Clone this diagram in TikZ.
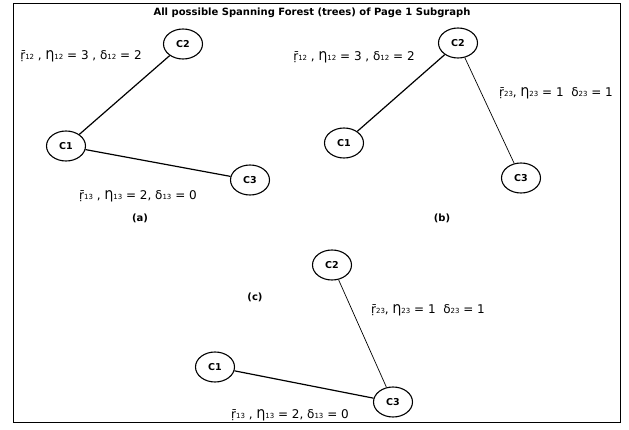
\documentclass[tikz,border=0pt]{standalone}
\usepackage{fontspec}
\setmainfont{DejaVu Sans}
\usetikzlibrary{shapes.geometric}

% small subscript set on the baseline
\newcommand\ix[1]{{\fontsize{7}{7}\selectfont #1}}

\tikzset{
  cnode/.style={draw, ellipse, line width=1.1pt, minimum width=39pt,
    minimum height=30pt, inner sep=0pt, font=\bfseries\fontsize{9.5}{9.5}\selectfont},
  wire/.style={line width=1.2pt},
  thinwire/.style={line width=0.7pt},
  wlabel/.style={inner sep=0pt, font=\fontsize{12}{12}\selectfont},
  tag/.style={inner sep=0pt, font=\bfseries\fontsize{10}{10}\selectfont}
}

\begin{document}
\begin{tikzpicture}[x=1pt, y=-1pt]
  \useasboundingbox (0,0) rectangle (629,430);
  % outer frame and title
  \draw[line width=1pt] (13,4) rectangle (620,422);
  \node[tag] (title) at (312,13) {All possible Spanning Forest (trees) of Page 1 Subgraph};

  % (a): C2--C1 and C1--C3
  \begin{scope}
    \node[cnode] (a2) at (183,44)  {C2};
    \node[cnode] (a1) at (66,146)  {C1};
    \node[cnode] (a3) at (250,180) {C3};
    \draw[wire] (a2) -- (a1);
    \draw[wire] (a1) -- (a3);
    % edge labels
    \node[wlabel] (a12) at (81,56)   {ṝ\ix{12} , Ƞ\ix{12} = 3 , δ\ix{12} = 2};
    \node[wlabel] (a13) at (138,196) {ṝ\ix{13} , Ƞ\ix{13} = 2, δ\ix{13} = 0};
    \node[tag] (capa) at (140,218) {(a)};
  \end{scope}

  % (b): C2--C1 and C2--C3
  \begin{scope}
    \node[cnode] (b2) at (458,43)  {C2};
    \node[cnode] (b1) at (344,143) {C1};
    \node[cnode] (b3) at (521,178) {C3};
    \draw[wire] (b2) -- (b1);
    \draw[thinwire] (b2) -- (b3);
    % edge labels
    \node[wlabel] (b12) at (354,57) {ṝ\ix{12} , Ƞ\ix{12} = 3 , δ\ix{12} = 2};
    \node[wlabel] (b23) at (556,93) {ṝ\ix{23}, Ƞ\ix{23} = 1~~δ\ix{23} = 1};
    \node[tag] (capb) at (442,218) {(b)};
  \end{scope}

  % (c): C2--C3 and C1--C3
  \begin{scope}
    \node[cnode] (c2) at (332,265) {C2};
    \node[cnode] (c1) at (215,367) {C1};
    \node[cnode] (c3) at (393,402) {C3};
    \draw[thinwire] (c2) -- (c3);
    \draw[wire] (c1) -- (c3);
    % edge labels
    \node[wlabel] (c23) at (428,310) {ṝ\ix{23}, Ƞ\ix{23} = 1~~δ\ix{23} = 1};
    \node[wlabel] (c13) at (290,415) {ṝ\ix{13} , Ƞ\ix{13} = 2, δ\ix{13} = 0};
    \node[tag] (capc) at (255,297) {(c)};
  \end{scope}
\end{tikzpicture}
\end{document}
